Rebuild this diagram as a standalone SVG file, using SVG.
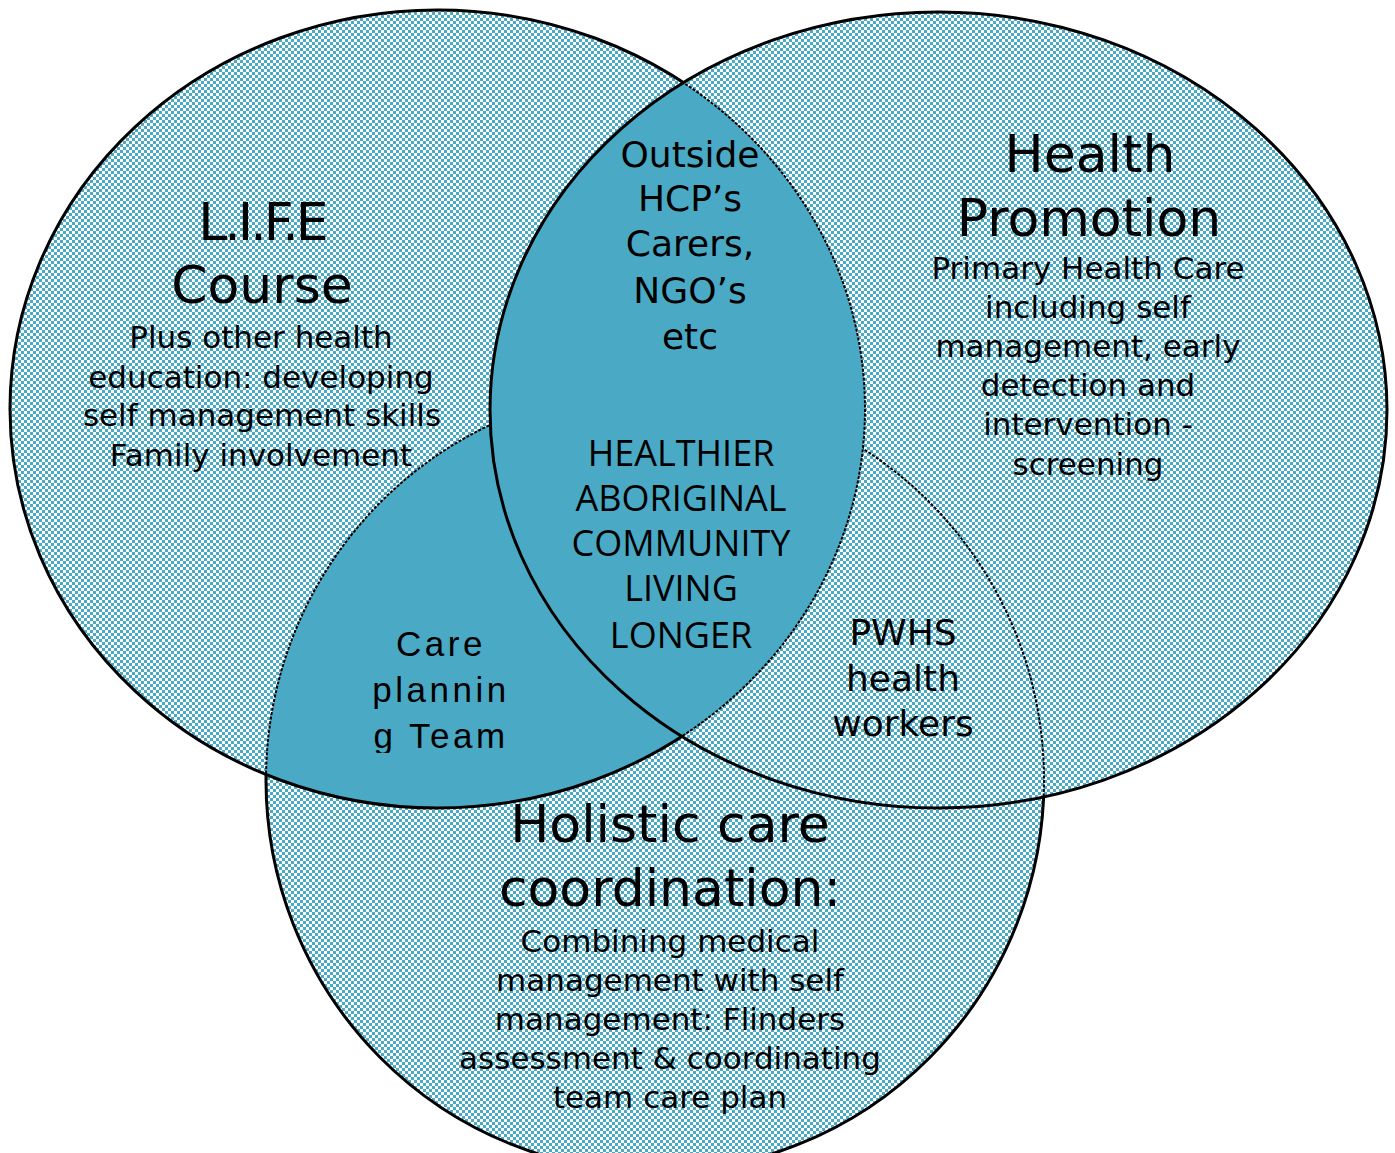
<svg xmlns="http://www.w3.org/2000/svg" width="1395" height="1153" viewBox="0 0 1395 1153">
  <style>
    .head { font-family: "DejaVu Sans", "Liberation Sans", sans-serif; font-size: 52px; fill: #000; text-anchor: middle; }
    .body { font-family: "DejaVu Sans", "Liberation Sans", sans-serif; font-size: 31px; fill: #000; text-anchor: middle; }
    .lens { font-family: "DejaVu Sans", "Liberation Sans", sans-serif; font-size: 36px; fill: #000; text-anchor: middle; }
    .core { font-family: "Open Sans", "Liberation Sans", sans-serif; font-size: 36px; fill: #000; text-anchor: middle; }
    .arial { font-family: "Liberation Sans", Arial, sans-serif; font-size: 35px; fill: #000; text-anchor: middle; letter-spacing: 3.5px; }
    .solid { fill: #4aaac5; }
    .edge { fill: none; stroke: #000; stroke-width: 3; }
    .faint { fill: none; stroke: #000; stroke-width: 2; stroke-dasharray: 3 1.5; }
  </style>
  <defs>
    <!-- teal / white checker used for the circle bodies -->
    <pattern id="checker" patternUnits="userSpaceOnUse" width="6" height="6">
      <rect width="6" height="6" fill="#ffffff"/>
      <rect x="0" y="0" width="3" height="3" fill="#4aaac5" shape-rendering="crispEdges"/>
      <rect x="3" y="3" width="3" height="3" fill="#4aaac5" shape-rendering="crispEdges"/>
    </pattern>
    <clipPath id="inLeft"><ellipse cx="437.5" cy="409" rx="427.5" ry="399"/></clipPath>
    <clipPath id="inRight"><ellipse cx="938.5" cy="410" rx="448.5" ry="398"/></clipPath>
    <clipPath id="careClip"><rect x="300" y="600" width="300" height="153"/></clipPath>
    <mask id="outsideRight" maskUnits="userSpaceOnUse" x="0" y="0" width="1395" height="1153">
      <rect width="1395" height="1153" fill="#fff"/>
      <ellipse cx="938.5" cy="410" rx="448.5" ry="398" fill="#000"/>
    </mask>
    <mask id="outsideTop" maskUnits="userSpaceOnUse" x="0" y="0" width="1395" height="1153">
      <rect width="1395" height="1153" fill="#fff"/>
      <ellipse cx="437.5" cy="409" rx="427.5" ry="399" fill="#000"/>
      <ellipse cx="938.5" cy="410" rx="448.5" ry="398" fill="#000"/>
    </mask>
    <mask id="insideTopNoLens" maskUnits="userSpaceOnUse" x="0" y="0" width="1395" height="1153">
      <ellipse cx="437.5" cy="409" rx="427.5" ry="399" fill="#fff"/>
      <ellipse cx="938.5" cy="410" rx="448.5" ry="398" fill="#fff"/>
      <ellipse cx="938.5" cy="410" rx="448.5" ry="398" fill="#000" clip-path="url(#inLeft)"/>
    </mask>
  </defs>

  <rect width="1395" height="1153" fill="#ffffff"/>

  <!-- circle bodies -->
  <g id="circles">
    <ellipse id="life-body" cx="437.5" cy="409" rx="427.5" ry="399" fill="url(#checker)"/>
    <ellipse id="promo-body" cx="938.5" cy="410" rx="448.5" ry="398" fill="url(#checker)"/>
    <ellipse id="holistic-body" cx="655" cy="780" rx="389" ry="392" fill="url(#checker)"/>
    <!-- solid overlaps -->
    <ellipse class="solid" cx="938.5" cy="410" rx="448.5" ry="398" clip-path="url(#inLeft)"/>
    <ellipse class="solid" cx="655" cy="780" rx="389" ry="392" clip-path="url(#inLeft)"/>
  </g>

  <!-- outlines -->
  <g id="connectors">
    <ellipse class="faint" cx="437.5" cy="409" rx="427.5" ry="399" clip-path="url(#inRight)"/>
    <ellipse class="edge" cx="437.5" cy="409" rx="427.5" ry="399" mask="url(#outsideRight)"/>
    <ellipse class="faint" cx="655" cy="780" rx="389" ry="392" mask="url(#insideTopNoLens)"/>
    <ellipse class="edge" cx="655" cy="780" rx="389" ry="392" mask="url(#outsideTop)"/>
    <ellipse class="edge" cx="938.5" cy="410" rx="448.5" ry="398"/>
  </g>

  <g id="life-course">
    <text class="head" x="262" y="240" style="letter-spacing:-3px">L.I.F.E</text>
    <text class="head" x="262" y="303">Course</text>
    <text class="body" x="261" y="348">Plus other health</text>
    <text class="body" x="261" y="388">education: developing</text>
    <text class="body" x="262" y="426">self management skills</text>
    <text class="body" x="261" y="466">Family involvement</text>
  </g>

  <g id="health-promotion">
    <text class="head" x="1090" y="172">Health</text>
    <text class="head" x="1089" y="236">Promotion</text>
    <text class="body" x="1088" y="279">Primary Health Care</text>
    <text class="body" x="1088" y="318">including self</text>
    <text class="body" x="1088" y="357">management, early</text>
    <text class="body" x="1088" y="396">detection and</text>
    <text class="body" x="1088" y="435">intervention -</text>
    <text class="body" x="1088" y="475">screening</text>
  </g>

  <g id="holistic-care">
    <text class="head" x="670" y="842">Holistic care</text>
    <text class="head" x="670" y="906">coordination:</text>
    <text class="body" x="670" y="952">Combining medical</text>
    <text class="body" x="670" y="991">management with self</text>
    <text class="body" x="670" y="1030">management: Flinders</text>
    <text class="body" x="670" y="1069">assessment &amp; coordinating</text>
    <text class="body" x="670" y="1108">team care plan</text>
  </g>

  <g id="outside-partners">
    <text class="lens" x="690" y="167">Outside</text>
    <text class="lens" x="690" y="211">HCP’s</text>
    <text class="lens" x="690" y="256">Carers,</text>
    <text class="lens" x="690" y="303">NGO’s</text>
    <text class="lens" x="690" y="349">etc</text>
  </g>

  <g id="community-goal">
    <text class="core" x="681" y="466">HEALTHIER</text>
    <text class="core" x="681" y="511">ABORIGINAL</text>
    <text class="core" x="681" y="556">COMMUNITY</text>
    <text class="core" x="681" y="601">LIVING</text>
    <text class="core" x="681" y="648">LONGER</text>
  </g>

  <g id="care-planning" clip-path="url(#careClip)">
    <text class="arial" x="441" y="656">Care</text>
    <text class="arial" x="441" y="702">plannin</text>
    <text class="arial" x="441" y="748">g Team</text>
  </g>

  <g id="pwhs">
    <text class="lens" x="903" y="645">PWHS</text>
    <text class="lens" x="903" y="691">health</text>
    <text class="lens" x="903" y="736">workers</text>
  </g>
</svg>
